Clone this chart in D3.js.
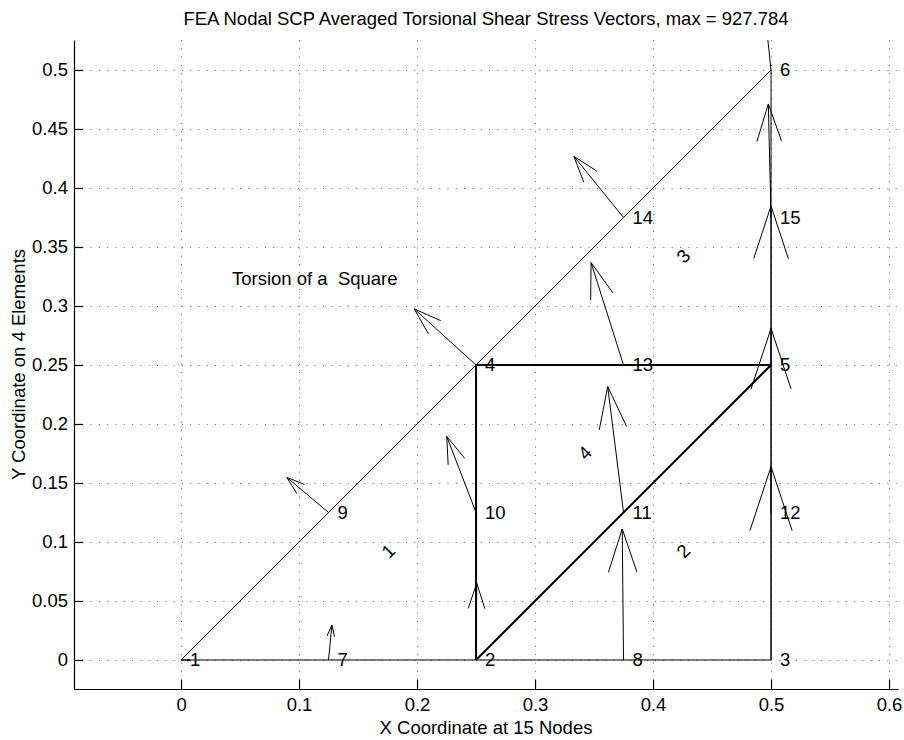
<!DOCTYPE html>
<html>
<head>
<meta charset="utf-8">
<script src="https://cdn.jsdelivr.net/npm/d3@7"></script>
<style>
  body { margin: 0; background: #fff; }
  svg text { font-family: "Liberation Sans", Arial, Helvetica, sans-serif; font-size: 18.5px; fill: #000; }
</style>
</head>
<body>
<svg id="chart" width="904" height="740"></svg>
<script>
// Mesh nodes (6-node triangles, 4 elements) on one eighth of a square section
const nodeIds = [1, 2, 3, 4, 5, 6, 7, 8, 9, 10, 11, 12, 13, 14, 15];
const nodeX = [0, 0.25, 0.5, 0.25, 0.5, 0.5, 0.125, 0.375, 0.125, 0.25, 0.375, 0.5, 0.375, 0.375, 0.5];
const nodeY = [0, 0, 0, 0.25, 0.25, 0.5, 0, 0, 0.125, 0.125, 0.125, 0.125, 0.25, 0.375, 0.375];

// Corner nodes of each element
const elementIds = [1, 2, 3, 4];
const elementCorners = [[1, 2, 4], [2, 3, 5], [4, 5, 6], [2, 5, 4]];

// Scaled shear stress vector components at each node (plot units)
const vecU = [0.0075, 0.0006, 0, -0.0523, 0, -0.020, 0.0029, -0.0011, -0.0353, -0.0248, -0.0134, 0, -0.0275, -0.042, -0.0023];
const vecV = [0, 0.065, 0.1638, 0.0475, 0.1347, 0.19, 0.0297, 0.111, 0.0297, 0.0644, 0.1066, 0.156, 0.0867, 0.0517, 0.0962];

const xTicks = [0, 0.1, 0.2, 0.3, 0.4, 0.5, 0.6];
const xTickLabels = ["0", "0.1", "0.2", "0.3", "0.4", "0.5", "0.6"];
const yTicks = [0, 0.05, 0.1, 0.15, 0.2, 0.25, 0.3, 0.35, 0.4, 0.45, 0.5];
const yTickLabels = ["0", "0.05", "0.1", "0.15", "0.2", "0.25", "0.3", "0.35", "0.4", "0.45", "0.5"];

const titleText = "FEA Nodal SCP Averaged Torsional Shear Stress Vectors, max = 927.784";
const xLabelText = "X Coordinate at 15 Nodes";
const yLabelText = "Y Coordinate on 4 Elements";
const noteText = "Torsion of a  Square";
const notePos = [0.0432, 0.318];

const svg = d3.select("#chart");
const plot = { left: 74, right: 898, top: 40, bottom: 689 };

const x = d3.scaleLinear().domain([-0.0907, 0.6076]).range([plot.left, plot.right]);
const y = d3.scaleLinear().domain([-0.0246, 0.5254]).range([plot.bottom, plot.top]);

svg.append("defs").append("clipPath").attr("id", "plotClip")
  .append("rect")
  .attr("x", plot.left).attr("y", plot.top)
  .attr("width", plot.right - plot.left).attr("height", plot.bottom - plot.top);

// Dotted grid
const grid = svg.append("g").attr("stroke", "#000").attr("stroke-width", 1)
  .attr("stroke-dasharray", "1,7.3").attr("opacity", 0.6);
grid.selectAll("line.gx").data(xTicks).join("line")
  .attr("x1", d => Math.round(x(d)) + 0.5).attr("x2", d => Math.round(x(d)) + 0.5)
  .attr("y1", plot.top).attr("y2", plot.bottom);
grid.selectAll("line.gy").data(yTicks).join("line")
  .attr("y1", d => Math.round(y(d)) + 0.5).attr("y2", d => Math.round(y(d)) + 0.5)
  .attr("x1", plot.left).attr("x2", plot.right);

// Axes: left and bottom only, ticks pointing inward
const xAxis = d3.axisBottom(x).tickValues(xTicks).tickFormat((d, i) => xTickLabels[i])
  .tickSizeInner(-9).tickSizeOuter(0).tickPadding(9);
const yAxis = d3.axisLeft(y).tickValues(yTicks).tickFormat((d, i) => yTickLabels[i])
  .tickSizeInner(-9).tickSizeOuter(0).tickPadding(6);

const gx = svg.append("g").attr("transform", `translate(0,${plot.bottom})`).call(xAxis);
const gy = svg.append("g").attr("transform", `translate(${plot.left},0)`).call(yAxis);
[gx, gy].forEach(g => {
  g.attr("font-family", null).attr("font-size", null);
  g.selectAll("path,line").attr("stroke", "#000").attr("stroke-width", 1.2);
});

const nodeIndex = id => nodeIds.indexOf(id);
const px = id => x(nodeX[nodeIndex(id)]);
const py = id => y(nodeY[nodeIndex(id)]);

const body = svg.append("g").attr("clip-path", "url(#plotClip)");

// Element edges; edges shared by two elements are heavier
const edgeCount = new Map();
elementCorners.forEach(c => {
  for (let k = 0; k < 3; k++) {
    const a = c[k], b = c[(k + 1) % 3];
    const key = a < b ? `${a}-${b}` : `${b}-${a}`;
    edgeCount.set(key, (edgeCount.get(key) || 0) + 1);
  }
});
const edges = Array.from(edgeCount, ([key, n]) => {
  const [a, b] = key.split("-").map(Number);
  return { a, b, n };
});
body.selectAll("line.edge").data(edges).join("line")
  .attr("class", "edge")
  .attr("x1", d => px(d.a)).attr("y1", d => py(d.a))
  .attr("x2", d => px(d.b)).attr("y2", d => py(d.b))
  .attr("stroke", "#000")
  .attr("stroke-width", d => d.n > 1 ? 2 : 1);

// Stress vectors drawn with quiver-style arrowheads
const alpha = 0.33, beta = 0.33;
const arrowPath = i => {
  const x0 = nodeX[i], y0 = nodeY[i], u = vecU[i], v = vecV[i];
  const x2 = x0 + u, y2 = y0 + v;
  const b1 = [x2 - alpha * (u + beta * v), y2 - alpha * (v - beta * u)];
  const b2 = [x2 - alpha * (u - beta * v), y2 - alpha * (v + beta * u)];
  return `M${x(x0)},${y(y0)}L${x(x2)},${y(y2)}` +
         `M${x(b1[0])},${y(b1[1])}L${x(x2)},${y(y2)}L${x(b2[0])},${y(b2[1])}`;
};
body.selectAll("path.vec").data(nodeIds.map((d, i) => i)).join("path")
  .attr("class", "vec")
  .attr("d", arrowPath)
  .attr("fill", "none")
  .attr("stroke", "#000")
  .attr("stroke-width", 1);

// Node numbers
svg.selectAll("text.node").data(nodeIds).join("text")
  .attr("class", "node")
  .attr("x", (d, i) => x(nodeX[i]) + 9)
  .attr("y", (d, i) => y(nodeY[i]) + 6.5)
  .text(d => d);

// Element numbers near each centroid, rotated
svg.selectAll("text.elem").data(elementIds).join("text")
  .attr("class", "elem")
  .attr("text-anchor", "middle")
  .attr("transform", (d, i) => {
    const c = elementCorners[i];
    const cx = d3.mean(c, id => nodeX[nodeIndex(id)]);
    const cy = d3.mean(c, id => nodeY[nodeIndex(id)]);
    return `translate(${x(cx) + 10.5},${y(cy) - 10.5}) rotate(-45)`;
  })
  .attr("dy", "0.35em")
  .text(d => d);

// Annotation
svg.append("text")
  .attr("x", x(notePos[0])).attr("y", y(notePos[1]))
  .attr("xml:space", "preserve")
  .style("white-space", "pre")
  .text(noteText);

// Title and axis labels
const midX = (plot.left + plot.right) / 2;
svg.append("text").attr("x", midX).attr("y", 25).attr("text-anchor", "middle").text(titleText);
svg.append("text").attr("x", midX).attr("y", 734).attr("text-anchor", "middle").text(xLabelText);
svg.append("text")
  .attr("transform", `translate(25,${(plot.top + plot.bottom) / 2}) rotate(-90)`)
  .attr("text-anchor", "middle")
  .text(yLabelText);
</script>
</body>
</html>
